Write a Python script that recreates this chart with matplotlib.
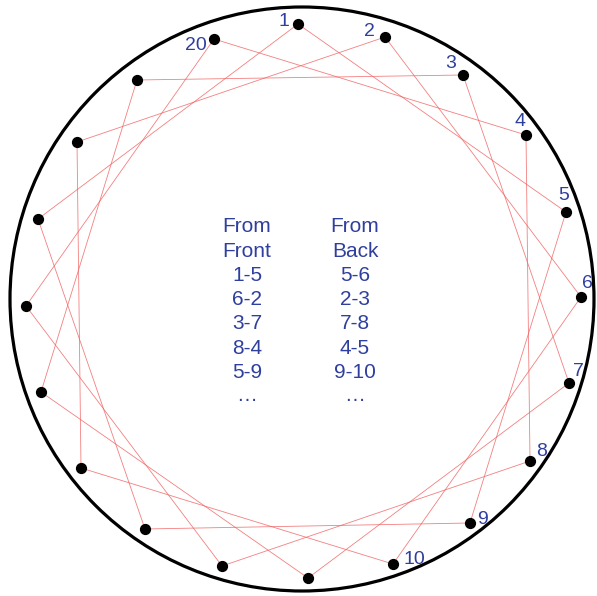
import matplotlib
matplotlib.use("Agg")
import matplotlib.pyplot as plt
from matplotlib.patches import Circle

# Pin positions (pixel-like coordinates, y downward)
pin_ids = list(range(1, 21))
pin_x = [298, 385, 463, 526, 566, 581, 569, 530, 470, 393,
         308, 222, 145, 81, 41, 26, 38, 77, 137, 214]
pin_y = [24, 37, 75, 135, 212, 297, 383, 461, 523, 564,
         578, 566, 529, 468, 392, 306, 219, 142, 80, 39]

# Front threads: each pin joined to the pin four steps ahead
chord_from = list(range(1, 21))
chord_to = [((i + 4 - 1) % 20) + 1 for i in chord_from]

# Labelled pins and label positions
label_ids = [1, 2, 3, 4, 5, 6, 7, 8, 9, 10, 20]
label_x = [284, 369, 451, 520, 564, 587, 578, 542, 483, 414, 196]
label_y = [21, 31, 63, 122, 195, 283, 371, 452, 519, 559, 45]

# Centre text
col_front = ["From", "Front", "1-5", "6-2", "3-7", "8-4", "5-9", "\u2026"]
col_back = ["From", "Back", "5-6", "2-3", "7-8", "4-5", "9-10", "\u2026"]

fig = plt.figure(figsize=(5.97, 5.96), dpi=100)
ax = fig.add_axes([0, 0, 1, 1])
ax.set_xlim(0, 597)
ax.set_ylim(596, 0)
ax.set_aspect('equal')
ax.axis('off')

ax.add_patch(Circle((302, 299), 292, fill=False, edgecolor='black', lw=2.3, zorder=1))

for a, b in zip(chord_from, chord_to):
    ax.plot([pin_x[a - 1], pin_x[b - 1]], [pin_y[a - 1], pin_y[b - 1]],
            color='#f06060', lw=0.6, alpha=0.8, zorder=2)

ax.scatter(pin_x, pin_y, s=50, color='black', zorder=3)

blue = '#2f3f9e'
font = 'Liberation Sans'
for i, lx, ly in zip(label_ids, label_x, label_y):
    ax.text(lx, ly, str(i), color=blue, fontsize=14, family=font,
            ha='center', va='center')

row_y0 = 227
row_dy = 24.2
for k, (f, b) in enumerate(zip(col_front, col_back)):
    yy = row_y0 + k * row_dy
    if k == len(col_front) - 1:
        yy -= 1
    ax.text(247, yy, f, color=blue, fontsize=15, family=font, ha='center', va='center')
    ax.text(355, yy, b, color=blue, fontsize=15, family=font, ha='center', va='center')

fig.savefig('out.png', dpi=100)
